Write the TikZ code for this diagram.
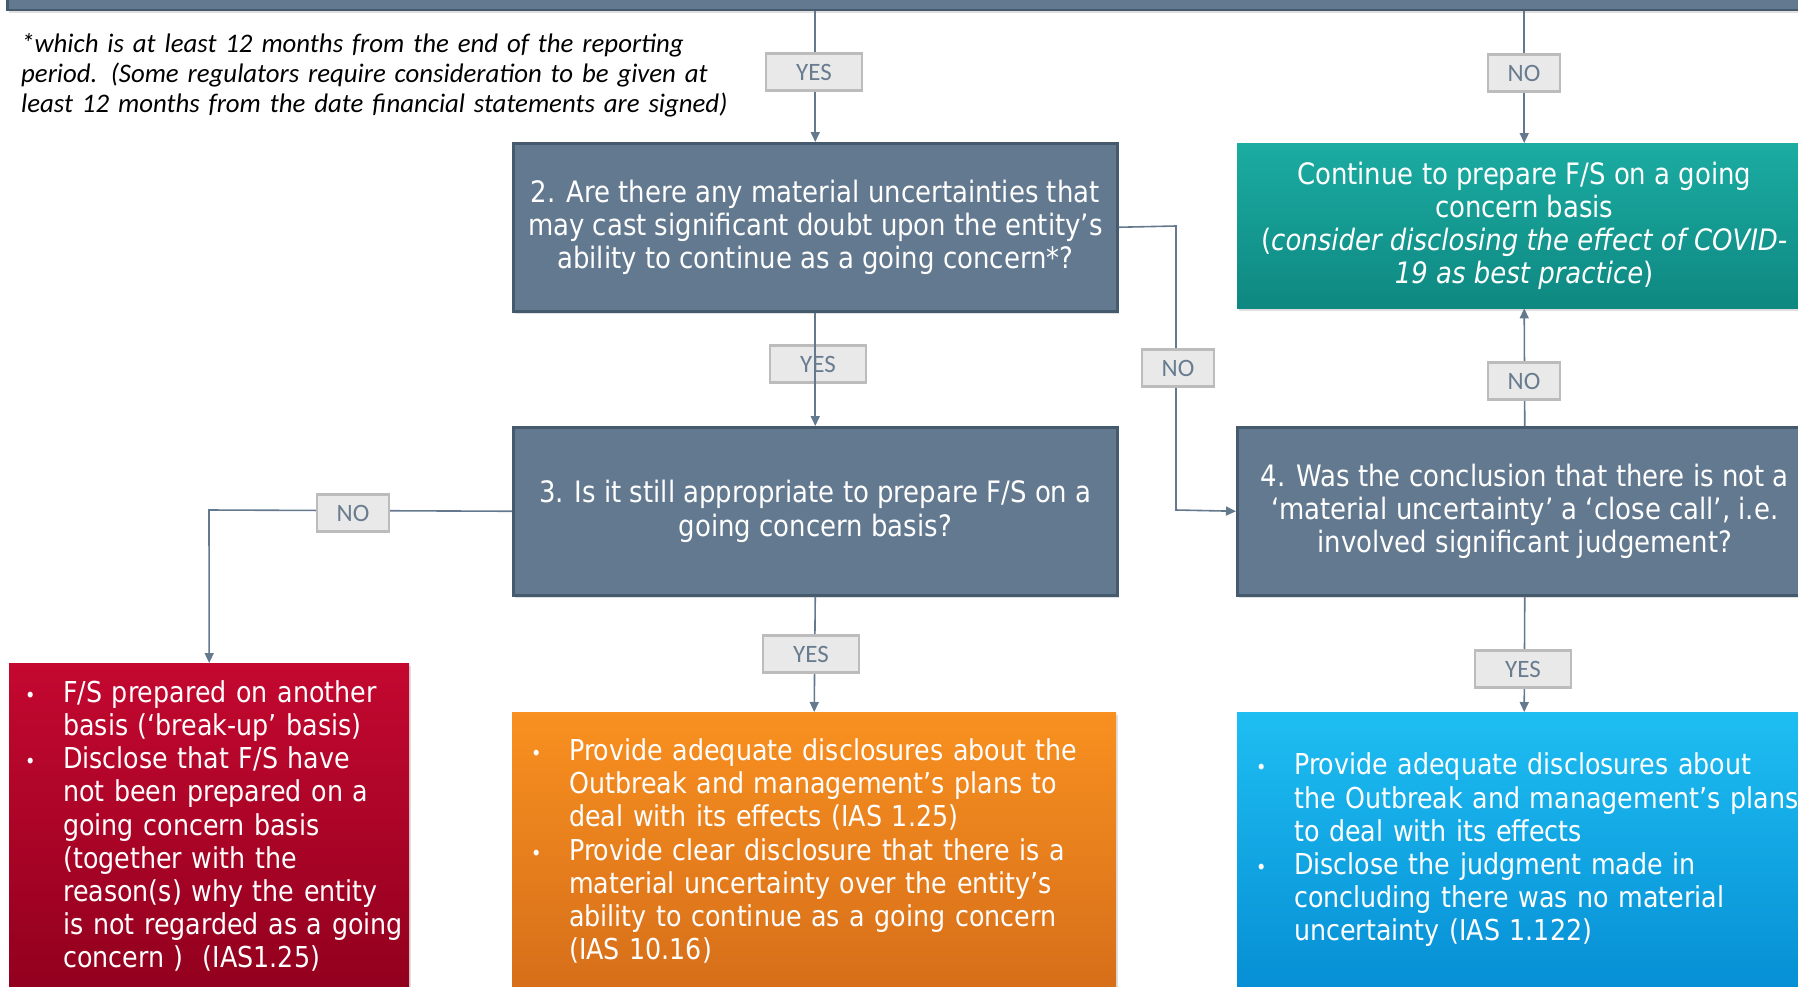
\documentclass[tikz,border=0pt]{standalone}
\usepackage{fontspec}
\setmainfont{DejaVu Sans}[FakeStretch=0.88]
\newfontfamily\notefont{Carlito}
\usetikzlibrary{arrows.meta,shadows,calc}
\definecolor{slate}{RGB}{99,121,143}
\definecolor{slateB}{RGB}{70,90,110}
\definecolor{lineC}{RGB}{100,121,141}
\definecolor{labF}{RGB}{233,233,233}
\definecolor{labB}{RGB}{188,188,188}
\definecolor{labT}{RGB}{105,124,143}
\definecolor{tealT}{RGB}{27,172,162}
\definecolor{tealB}{RGB}{14,136,129}
\definecolor{redT}{RGB}{196,8,48}
\definecolor{redB}{RGB}{146,0,30}
\definecolor{orT}{RGB}{248,144,32}
\definecolor{orB}{RGB}{214,110,26}
\definecolor{blT}{RGB}{30,190,242}
\definecolor{blB}{RGB}{6,142,212}
\tikzset{
  shd/.style={drop shadow={shadow xshift=2pt,shadow yshift=-3pt,opacity=0.25}},
  qbox/.style={draw=slateB, line width=2.5pt, fill=slate, text=white, align=center,
    font=\fontsize{29.5}{33.2}\selectfont, inner sep=0pt, shd},
  cbox/.style={draw=none, inner sep=0pt, shd},
  btext/.style={text=white, align=left, text width=640pt, inner sep=0pt,
    font=\fontsize{28.8}{33.2}\selectfont},
  lab/.style={draw=labB, line width=2.5pt, fill=labF, text=labT, inner sep=0pt,
    font=\notefont\fontsize{25}{25}\selectfont, minimum height=37pt},
  yeslab/.style={lab, minimum width=96pt},
  nolab/.style={lab, minimum width=72pt},
  conn/.style={draw=lineC, line width=1.6pt},
  arr/.style={conn, -{Triangle[length=10pt,width=9pt]}},
}
\newcommand{\bul}{\makebox[38pt][l]{\fontsize{20}{20}\selectfont\textbullet}}
\newcommand{\ind}{\hspace*{38pt}}
\begin{document}
\begin{tikzpicture}[x=1pt,y=-1pt]
\useasboundingbox (0,0) rectangle (1798,986);
\clip (0,0) rectangle (1798,986);

% header box (cut off at the top)
\node[qbox, anchor=south west, minimum width=1805pt, minimum height=45pt] (top) at (6,11) {};

% note
\node[anchor=west, align=left, text width=760pt, inner sep=0pt,
      font=\notefont\itshape\fontsize{26.8}{29.8}\selectfont] (note) at (21,75)
{*which is at least 12 months from the end of the reporting\\
period. (Some regulators require consideration to be given at\\
least 12 months from the date financial statements are signed)};

% question boxes
\node[qbox, anchor=north west, minimum width=604pt, minimum height=168pt] (q2) at (512,142)
{2. Are there any material uncertainties that\\
may cast significant doubt upon the entity’s\\
ability to continue as a going concern*?};

\node[qbox, anchor=north west, minimum width=604pt, minimum height=168pt] (q3) at (512,426)
{3. Is it still appropriate to prepare F/S on a\\
going concern basis?};

\node[qbox, anchor=north west, minimum width=575pt, minimum height=168pt] (q4) at (1236,426)
{4. Was the conclusion that there is not a\\
‘material uncertainty’ a ‘close call’, i.e.\\
involved significant judgement?};

% teal result
\node[cbox, top color=tealT, bottom color=tealB, anchor=north west,
      minimum width=574pt, minimum height=165pt, text=white, align=center,
      font=\fontsize{29.5}{33.2}\selectfont] (teal) at (1237,143)
{Continue to prepare F/S on a going\\
concern basis\\
(\textit{consider disclosing the effect of COVID-}\\
\textit{19 as best practice})};

% bottom result boxes
\node[cbox, top color=redT, bottom color=redB, anchor=north west,
      minimum width=400pt, minimum height=330pt] (red) at (9,663) {};
\node[cbox, top color=orT, bottom color=orB, anchor=north west,
      minimum width=604pt, minimum height=280pt] (orange) at (512,712) {};
\node[cbox, top color=blT, bottom color=blB, anchor=north west,
      minimum width=574pt, minimum height=280pt] (blue) at (1237,712) {};

\node[btext, anchor=west] (redtxt) at (25,826)
{\bul F/S prepared on another\\
\ind basis (‘break-up’ basis)\\
\bul Disclose that F/S have\\
\ind not been prepared on a\\
\ind going concern basis\\
\ind (together with the\\
\ind reason(s) why the entity\\
\ind is not regarded as a going\\
\ind concern )\ \ (IAS1.25)};

\node[btext, anchor=west] (ortxt) at (531,851)
{\bul Provide adequate disclosures about the\\
\ind Outbreak and management’s plans to\\
\ind deal with its effects (IAS 1.25)\\
\bul Provide clear disclosure that there is a\\
\ind material uncertainty over the entity’s\\
\ind ability to continue as a going concern\\
\ind (IAS 10.16)};

\node[btext, anchor=west] (bltxt) at (1256,850)
{\bul Provide adequate disclosures about\\
\ind the Outbreak and management’s plans\\
\ind to deal with its effects\\
\bul Disclose the judgment made in\\
\ind concluding there was no material\\
\ind uncertainty (IAS 1.122)};

% connectors
\coordinate (t1) at (top.south -| q2.north);
\coordinate (t2) at (top.south -| teal.north);
\coordinate (k1) at (1176,226);
\coordinate (k2) at (1176,510);
\coordinate (k3) at (209,510);

\draw[arr] (t1) -- (q2.north);
\node[yeslab] (yes1) at (814,72) {YES};

\draw[arr] (t2) -- (teal.north);
\node[nolab] (no1) at (1524,73) {NO};

\node[yeslab] (yes2) at (818,364) {YES};
\draw[arr] (q2.south) -- (q3.north);

\draw[arr] (q2.east) -- (k1) -- (k2) -- (q4.west);
\node[nolab] (no2) at (1178,368) {NO};

\draw[arr] (q4.north) -- (teal.south);
\node[nolab] (no3) at (1524,381) {NO};

\draw[arr] (q3.west) -- (k3) -- (red.north);
\node[nolab] (no4) at (353,513) {NO};

\draw[arr] (q3.south) -- (orange.north);
\node[yeslab] (yes3) at (811,654) {YES};

\draw[arr] (q4.south) -- (blue.north);
\node[yeslab] (yes4) at (1523,669) {YES};
\end{tikzpicture}
\end{document}
